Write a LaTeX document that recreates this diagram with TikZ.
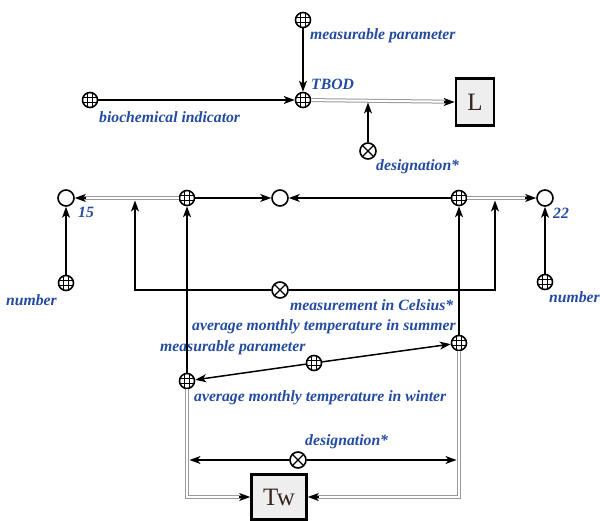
\documentclass[tikz,border=0pt]{standalone}
\usepackage{fontspec}
\setmainfont{Liberation Serif}
\usetikzlibrary{arrows.meta}

\definecolor{lblblue}{RGB}{35,75,160}
\definecolor{boxgray}{RGB}{238,238,238}
\definecolor{boxtext}{RGB}{55,35,30}

\tikzset{
  gridnode/.style={circle, draw, line width=1.6pt, minimum size=15pt, inner sep=0pt, fill=white,
    path picture={
      \foreach \s in {-2.6,2.6}{
        \draw[line width=0.8pt] ([xshift=\s pt]path picture bounding box.north) -- ([xshift=\s pt]path picture bounding box.south);
        \draw[line width=0.8pt] ([yshift=\s pt]path picture bounding box.west) -- ([yshift=\s pt]path picture bounding box.east);
      }}},
  crossnode/.style={circle, draw, line width=1.6pt, minimum size=16pt, inner sep=0pt, fill=white,
    path picture={
      \draw[line width=1.2pt] (path picture bounding box.south west) -- (path picture bounding box.north east);
      \draw[line width=1.2pt] (path picture bounding box.north west) -- (path picture bounding box.south east);
    }},
  opennode/.style={circle, draw, line width=1.6pt, minimum size=16pt, inner sep=0pt, fill=white},
  boxnode/.style={draw, line width=2.6pt, fill=boxgray, text=boxtext, inner sep=0pt,
    font=\fontsize{25}{28}\selectfont,
    path picture={\fill (path picture bounding box.north west) -- ++(6pt,0) -- ++(-6pt,-6pt) -- cycle;}},
  lbl/.style={text=lblblue, font=\fontsize{15.7}{18}\selectfont\bfseries\itshape, inner sep=0pt, anchor=west},
  arr/.style={line width=1.5pt, -{Stealth[length=11pt,width=8pt,inset=3pt]}},
  dline/.style={draw=gray!80, double=white, double distance=2pt, line width=1pt, shorten >=8pt}
}

\begin{document}
\begin{tikzpicture}[x=1pt, y=-1pt]

\useasboundingbox (0,0) rectangle (600,521);

% TBOD part
\node[gridnode] (nmeas) at (303,20) {};
\node[gridnode] (ntbod) at (303,100) {};
\node[gridnode] (nbio)  at (90,100) {};
\node[boxnode, minimum width=38pt, minimum height=47pt] (nL) at (475,102) {L};
\node[crossnode] (ndes1) at (368,151) {};

% temperature row
\node[opennode] (n15)  at (66,198) {};
\node[gridnode] (ngl)  at (187,198) {};
\node[opennode] (nmid) at (280,198) {};
\node[gridnode] (ngr)  at (459,198) {};
\node[opennode] (n22)  at (545,198) {};

\node[gridnode]  (nnum1) at (66,283) {};
\node[gridnode]  (nnum2) at (545,282) {};
\node[crossnode] (ncel)  at (280,290) {};
\coordinate (jl) at (135,198);
\coordinate (jr) at (495,198);

% summer / winter
\node[gridnode] (nsum) at (459,343) {};
\node[gridnode] (nwin) at (187,381) {};
\node[gridnode] (nmp)  at (314,363) {};

% Tw part
\node[crossnode] (ndes2) at (298,460) {};
\node[boxnode, minimum width=55pt, minimum height=45pt] (nTw) at (279,497) {Tw};

% Labels
\node[lbl] (tmeas) at (310,36)  {measurable parameter};
\node[lbl] (ttbod) at (311,84)  {TBOD};
\node[lbl] (tbio)  at (99,117)  {biochemical indicator};
\node[lbl] (tdes1) at (376,167) {designation*};
\node[lbl] (t15)   at (78,212)  {15};
\node[lbl] (t22)   at (553,213) {22};
\node[lbl] (tnum1) at (6,300)   {number};
\node[lbl] (tnum2) at (549,297) {number};
\node[lbl] (tcel)  at (290,305) {measurement in Celsius*};
\node[lbl] (tsum)  at (192,327) {average monthly temperature in summer};
\node[lbl] (tmp)   at (160,348) {measurable parameter};
\node[lbl] (twin)  at (194,398) {average monthly temperature in winter};
\node[lbl] (tdes2) at (305,442) {designation*};

% Connectors
\draw[arr] (nmeas) -- (ntbod);
\draw[arr] (nbio) -- (ntbod);
\draw[dline] (ntbod) -- (nL);
\draw[arr] ([xshift=-11pt]nL.west) -- (nL.west);
\draw[arr, shorten >=2.5pt] (ndes1) -- (ndes1 |- ntbod);

\draw[dline] (ngl) -- (n15);
\draw[arr] ([xshift=11pt]n15.east) -- (n15.east);
\draw[arr] (ngl) -- (nmid);
\draw[arr] (ngr) -- (nmid);
\draw[dline] (ngr) -- (n22);
\draw[arr] ([xshift=-11pt]n22.west) -- (n22.west);
\draw[arr] (nnum1) -- (n15);
\draw[arr] (nnum2) -- (n22);
\draw[arr, shorten >=2.5pt] (ncel) -| (jl);
\draw[arr, shorten >=2.5pt] (ncel) -| (jr);

\draw[arr] (nwin) -- (ngl);
\draw[arr] (nsum) -- (ngr);
\draw[arr] (nmp) -- (nsum);
\draw[arr] (nmp) -- (nwin);

\draw[dline] (nwin) |- (nTw);
\draw[arr] ([xshift=-11pt]nTw.west) -- (nTw.west);
\draw[dline] (nsum) |- (nTw);
\draw[arr] ([xshift=11pt]nTw.east) -- (nTw.east);
\draw[arr, shorten >=2.5pt] (ndes2) -- (nwin |- ndes2);
\draw[arr, shorten >=2.5pt] (ndes2) -- (nsum |- ndes2);

\end{tikzpicture}
\end{document}
